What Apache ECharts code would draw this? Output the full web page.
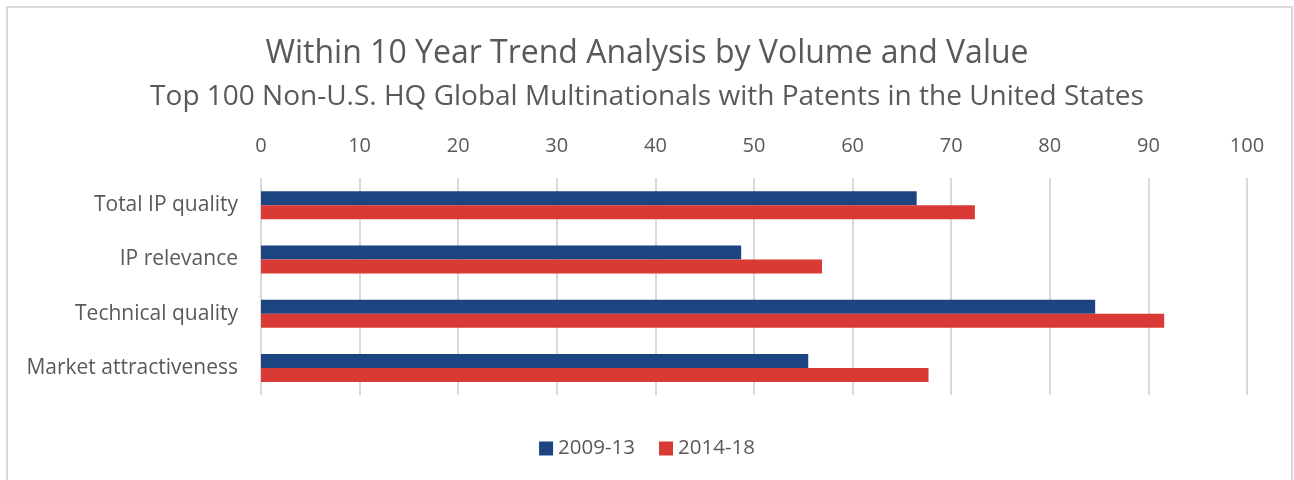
<!DOCTYPE html>
<html>
<head>
<meta charset="utf-8">
<script src="https://cdn.jsdelivr.net/npm/echarts@6/dist/echarts.min.js"></script>
<style>
  html, body { margin: 0; padding: 0; background: #fff; }
  #chart { width: 1294px; height: 480px; }
</style>
</head>
<body>
<div id="chart"></div>
<script>
// categories top to bottom (as in the picture)
const categories = ["Total IP quality", "IP relevance", "Technical quality", "Market attractiveness"];
const seriesNames = ["2009-13", "2014-18"];
const values0913 = [66.5, 48.7, 84.6, 55.5];
const values1418 = [72.4, 56.9, 91.6, 67.7];

const chart = echarts.init(document.getElementById("chart"));
const textColor = "#595959";
const font = "'Open Sans', 'Noto Sans', sans-serif";

chart.setOption({
  animation: false,
  textStyle: { fontFamily: font },
  graphic: [{
    type: "rect",
    shape: { x: 7, y: 7, width: 1285, height: 490 },
    style: { fill: "none", stroke: "#d9d9d9", lineWidth: 2 },
    silent: true
  }],
  title: {
    text: "Within 10 Year Trend Analysis by Volume and Value",
    subtext: "Top 100 Non-U.S. HQ Global Multinationals with Patents in the United States",
    left: "center",
    top: 33,
    itemGap: 13,
    textStyle: { fontFamily: font, fontSize: 32, fontWeight: "normal", color: textColor },
    subtextStyle: { fontFamily: font, fontSize: 28, color: textColor }
  },
  legend: {
    data: seriesNames,
    bottom: 16,
    left: "center",
    icon: "rect",
    itemWidth: 14,
    itemHeight: 14,
    itemGap: 24,
    textStyle: { fontFamily: font, fontSize: 20.5, color: textColor }
  },
  grid: { left: 261, right: 47, top: 178, bottom: 85 },
  xAxis: {
    type: "value",
    position: "top",
    min: 0,
    max: 100,
    interval: 10,
    axisLine: { show: false },
    axisTick: { show: false },
    axisLabel: { fontFamily: font, fontSize: 20, color: textColor, margin: 22 },
    splitLine: { lineStyle: { color: "#d9d9d9", width: 2 } }
  },
  yAxis: {
    type: "category",
    inverse: true,
    data: categories,
    axisLine: { show: false },
    axisTick: { show: false },
    axisLabel: { fontFamily: font, fontSize: 21, color: textColor, margin: 23 }
  },
  series: [
    {
      name: seriesNames[0],
      type: "bar",
      data: values0913,
      barWidth: 14,
      barGap: "0%",
      itemStyle: { color: "#1b4480" }
    },
    {
      name: seriesNames[1],
      type: "bar",
      data: values1418,
      barWidth: 14,
      itemStyle: { color: "#d93a35" }
    }
  ]
});
</script>
</body>
</html>
